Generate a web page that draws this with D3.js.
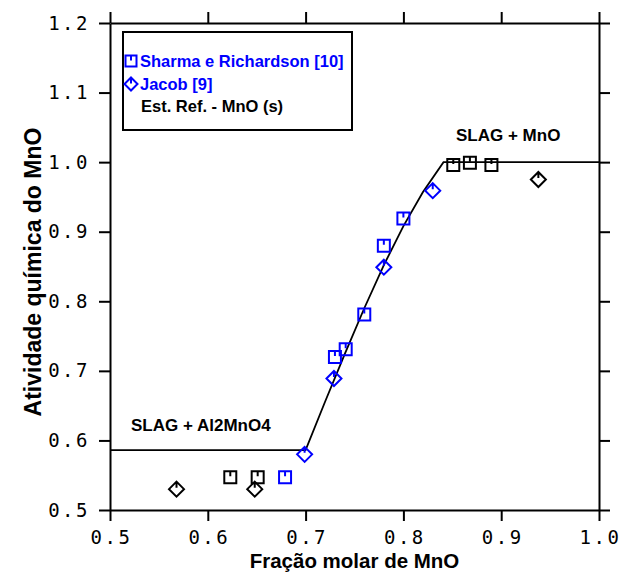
<!DOCTYPE html>
<html>
<head>
<meta charset="utf-8">
<script src="https://cdn.jsdelivr.net/npm/d3@7/dist/d3.min.js"></script>
<style>
  body { margin: 0; background: #fff; }
  svg { display: block; }
  .tick text {
    font-family: "DejaVu Sans Mono", "Liberation Mono", monospace;
    font-size: 19px; fill: #000;
    letter-spacing: 2.5px;
  }
</style>
</head>
<body>
<svg id="chart" width="621" height="577"></svg>
<script>
// MnO activity vs. MnO mole fraction
const xTicks = [0.5, 0.6, 0.7, 0.8, 0.9, 1.0];
const yTicks = [0.5, 0.6, 0.7, 0.8, 0.9, 1.0, 1.1, 1.2];

// Sharma e Richardson [10]; phase "s" = saturated with a solid, "l" = liquid slag
const sharmaX = [0.623, 0.651, 0.679, 0.730, 0.741, 0.760, 0.780, 0.800, 0.851, 0.868, 0.890];
const sharmaY = [0.547, 0.547, 0.547, 0.720, 0.731, 0.781, 0.880, 0.919, 0.996, 0.999, 0.996];
const sharmaPhase = ["s", "s", "l", "l", "l", "l", "l", "l", "s", "s", "s"];

// Jacob [9]
const jacobX = [0.568, 0.648, 0.699, 0.729, 0.780, 0.830, 0.938];
const jacobY = [0.530, 0.530, 0.580, 0.689, 0.849, 0.959, 0.975];
const jacobPhase = ["s", "s", "l", "l", "l", "l", "s"];

// Calculated activity, reference state solid MnO
const refX = [0.5, 0.700, 0.720, 0.740, 0.760, 0.780, 0.800, 0.820, 0.841, 1.0];
const refY = [0.586, 0.586, 0.656, 0.724, 0.790, 0.852, 0.908, 0.957, 1.0, 1.0];

const svg = d3.select("#chart");
const x = d3.scaleLinear().domain([0.5, 1.0]).range([110, 599]);
const y = d3.scaleLinear().domain([0.5, 1.2]).range([510, 23]);
const color = d3.scaleOrdinal().domain(["l", "s"]).range(["#0000ff", "#000000"]);
const fmt = d3.format(".1f");
const T = 11;
const sans = "Liberation Sans, Arial, sans-serif";

function styleAxis(g) {
  g.select(".domain").attr("stroke", "#000").attr("stroke-width", 2);
  g.selectAll(".tick line").attr("stroke", "#000").attr("stroke-width", 2);
}

svg.append("g").attr("transform", `translate(0,${y(0.5)})`)
  .call(d3.axisBottom(x).tickValues(xTicks).tickFormat(fmt).tickSize(T).tickSizeOuter(0).tickPadding(5))
  .call(styleAxis)
  .call(g => g.selectAll("text").attr("dy", "0.95em").attr("dx", "1px"));
svg.append("g").attr("transform", `translate(0,${y(1.2)})`)
  .call(d3.axisTop(x).tickValues(xTicks).tickFormat("").tickSize(T).tickSizeOuter(0))
  .call(styleAxis);
svg.append("g").attr("transform", `translate(${x(0.5)},0)`)
  .call(d3.axisLeft(y).tickValues(yTicks).tickFormat(fmt).tickSize(T).tickSizeOuter(0).tickPadding(9))
  .call(styleAxis);
svg.append("g").attr("transform", `translate(${x(1.0)},0)`)
  .call(d3.axisRight(y).tickValues(yTicks).tickFormat("").tickSize(T).tickSizeOuter(0))
  .call(styleAxis);

// reference curve
svg.append("path")
  .datum(refX.map((v, i) => [v, refY[i]]))
  .attr("fill", "none").attr("stroke", "#000").attr("stroke-width", 1.8)
  .attr("d", d3.line().x(d => x(d[0])).y(d => y(d[1])));

// marker shapes: open square / diamond with a short tick from the top
function squarePath(s) {
  const h = s / 2;
  return `M${-h},${-h}H${h}V${h}H${-h}Z M0,${-h}V${-h + 5}`;
}
function diamondPath(s) {
  const h = s / 2;
  return `M0,${-h}L${h},0L0,${h}L${-h},0Z M0,${-h}V${-h + 6}`;
}

function plotSeries(xs, ys, ph, pathFn, size) {
  svg.append("g").selectAll("path")
    .data(xs.map((v, i) => ({ x: v, y: ys[i], p: ph[i] })))
    .join("path")
    .attr("transform", d => `translate(${x(d.x)},${y(d.y)})`)
    .attr("d", pathFn(size))
    .attr("fill", "none")
    .attr("stroke", d => color(d.p))
    .attr("stroke-width", 2);
}
plotSeries(sharmaX, sharmaY, sharmaPhase, squarePath, 12);
plotSeries(jacobX, jacobY, jacobPhase, diamondPath, 15);

// legend
const lg = svg.append("g");
lg.append("rect").attr("x", 123).attr("y", 32).attr("width", 229).attr("height", 98)
  .attr("fill", "#fff").attr("stroke", "#000").attr("stroke-width", 2);
lg.append("path").attr("transform", "translate(131,61)").attr("d", squarePath(11))
  .attr("fill", "none").attr("stroke", color("l")).attr("stroke-width", 2);
lg.append("path").attr("transform", "translate(131,84)").attr("d", diamondPath(13))
  .attr("fill", "none").attr("stroke", color("l")).attr("stroke-width", 2);
[["Sharma e Richardson [10]", 140, 67, color("l")],
 ["Jacob [9]", 140, 90, color("l")],
 ["Est. Ref. - MnO (s)", 141, 112, "#000"]].forEach(([t, tx, ty, c]) => {
  lg.append("text").attr("x", tx).attr("y", ty).attr("fill", c)
    .attr("font-family", sans).attr("font-size", "16.5px").attr("font-weight", "bold")
    .text(t);
});

// phase-field labels
[["SLAG + MnO", 456, 141], ["SLAG + Al2MnO4", 131, 431]].forEach(([t, tx, ty]) => {
  svg.append("text").attr("x", tx).attr("y", ty).attr("fill", "#000")
    .attr("font-family", sans).attr("font-size", "17px").attr("font-weight", "bold")
    .text(t);
});

// axis titles
svg.append("text").attr("x", (x(0.5) + x(1.0)) / 2).attr("y", 568)
  .attr("text-anchor", "middle")
  .attr("font-family", sans).attr("font-size", "20.5px").attr("font-weight", "bold")
  .text("Fração molar de MnO");
svg.append("text").attr("transform", "translate(41,272) rotate(-90)")
  .attr("text-anchor", "middle")
  .attr("font-family", sans).attr("font-size", "23px").attr("font-weight", "bold")
  .text("Atividade química do MnO");
</script>
</body>
</html>
